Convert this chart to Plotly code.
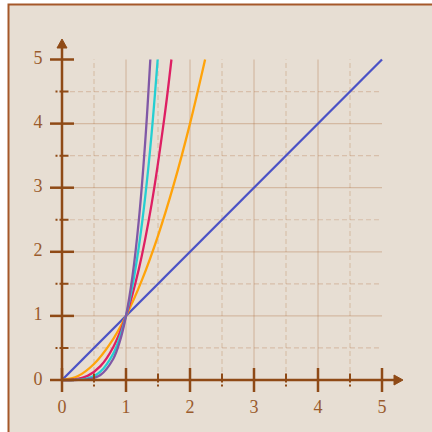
import plotly.graph_objects as go

# ---- data ----
x1 = [0, 5]
y1 = [0, 5]
x2 = [0, 0.25, 0.5, 0.75, 1, 1.25, 1.5, 1.75, 2, 2.236]
y2 = [0, 0.0625, 0.25, 0.5625, 1, 1.5625, 2.25, 3.0625, 4, 5]
x3 = [0, 0.2, 0.4, 0.6, 0.8, 1, 1.2, 1.4, 1.6, 1.71]
y3 = [0, 0.008, 0.064, 0.216, 0.512, 1, 1.728, 2.744, 4.096, 5]
x4 = [0, 0.2, 0.4, 0.6, 0.8, 0.9, 1, 1.1, 1.2, 1.3, 1.4, 1.495]
y4 = [0, 0.0016, 0.0256, 0.1296, 0.4096, 0.6561, 1, 1.4641, 2.0736, 2.8561, 3.8416, 5]
x5 = [0, 0.2, 0.4, 0.6, 0.8, 0.9, 1, 1.1, 1.2, 1.3, 1.38]
y5 = [0, 0.0003, 0.0102, 0.0778, 0.3277, 0.5905, 1, 1.6105, 2.4883, 3.7129, 5.0]

series = [
    (x1, y1, "#4b52c6"),
    (x2, y2, "#ffa30a"),
    (x3, y3, "#de1f63"),
    (x4, y4, "#24cfd2"),
    (x5, y5, "#8058a6"),
]

major_ticks = [0, 1, 2, 3, 4, 5]
tick_labels = ["0", "1", "2", "3", "4", "5"]
minor_ticks = [0.5, 1.5, 2.5, 3.5, 4.5]
grid_major = [1, 2, 3, 4]

# ---- style ----
W = H = 432
px_x = 64.0
px_y = 64.1
x0pix, y0pix = 62, 380
xr = [-x0pix / px_x, (W - x0pix) / px_x]
yr = [-(H - y0pix) / px_y, y0pix / px_y]

AX = "#8f4a16"
GRID_SOLID = "rgba(170,100,50,0.30)"
GRID_DASH = "rgba(170,100,50,0.25)"
LBL = "#9a5b2c"
BG = "#e7ded3"

fig = go.Figure()

shapes = []
# frame
shapes.append(dict(type="rect", xref="paper", yref="paper",
                   x0=8.5 / W, x1=1.2, y0=-0.2, y1=1 - 4.5 / H,
                   fillcolor=BG, line=dict(color="#a5582a", width=2), layer="below"))

# grid
for g in grid_major:
    shapes.append(dict(type="line", x0=g, x1=g, y0=0, y1=5, line=dict(color=GRID_SOLID, width=1.2), layer="below"))
    shapes.append(dict(type="line", x0=0, x1=5, y0=g, y1=g, line=dict(color=GRID_SOLID, width=1.2), layer="below"))
for g in minor_ticks:
    shapes.append(dict(type="line", x0=g, x1=g, y0=0, y1=5, line=dict(color=GRID_DASH, width=1.2, dash="5px,3px"), layer="below"))
    shapes.append(dict(type="line", x0=0, x1=5, y0=g, y1=g, line=dict(color=GRID_DASH, width=1.2, dash="5px,3px"), layer="below"))

# axes
ax_w = 2.5
shapes.append(dict(type="line", x0=0, x1=0, y0=0, y1=(y0pix - 46) / px_y, line=dict(color=AX, width=ax_w)))
shapes.append(dict(type="line", x0=0, x1=(396 - x0pix) / px_x, y0=0, y1=0, line=dict(color=AX, width=ax_w)))

# major ticks
tl = 12
for t in major_ticks:
    shapes.append(dict(type="line", x0=t, x1=t, y0=-tl / px_y, y1=tl / px_y, line=dict(color=AX, width=ax_w)))
    shapes.append(dict(type="line", x0=-tl / px_x, x1=tl / px_x, y0=t, y1=t, line=dict(color=AX, width=ax_w)))
# minor ticks
ml = 6.5
for t in minor_ticks:
    shapes.append(dict(type="line", x0=t, x1=t, y0=-ml / px_y, y1=ml / px_y,
                       line=dict(color=AX, width=2, dash="2px,2px,10px,2px")))
    shapes.append(dict(type="line", x0=-ml / px_x, x1=ml / px_x, y0=t, y1=t,
                       line=dict(color=AX, width=2, dash="2px,2px,10px,2px")))

# arrow heads
shapes.append(dict(type="path",
                   path=f"M {-5/px_x} {(y0pix-48)/px_y} L {5/px_x} {(y0pix-48)/px_y} L 0 {(y0pix-39)/px_y} Z",
                   fillcolor=AX, line=dict(color=AX, width=1)))
shapes.append(dict(type="path",
                   path=f"M {(394-x0pix)/px_x} {-5/px_y} L {(394-x0pix)/px_x} {5/px_y} L {(403-x0pix)/px_x} 0 Z",
                   fillcolor=AX, line=dict(color=AX, width=1)))

for xs, ys, c in series:
    fig.add_trace(go.Scatter(x=xs, y=ys, mode="lines", line=dict(color=c, width=2.3, shape="spline"),
                             hoverinfo="skip", showlegend=False))

# tick labels
fig.add_trace(go.Scatter(x=major_ticks, y=[-(408 - y0pix) / px_y] * len(major_ticks), mode="text",
                         text=tick_labels, textfont=dict(family="Liberation Serif, DejaVu Serif, serif", size=18, color=LBL),
                         hoverinfo="skip", showlegend=False))
fig.add_trace(go.Scatter(x=[-(x0pix - 38) / px_x] * len(major_ticks), y=major_ticks, mode="text",
                         text=tick_labels, textfont=dict(family="Liberation Serif, DejaVu Serif, serif", size=18, color=LBL),
                         hoverinfo="skip", showlegend=False))

fig.update_layout(
    width=W, height=H,
    margin=dict(l=0, r=0, t=0, b=0),
    paper_bgcolor="white", plot_bgcolor="white",
    xaxis=dict(range=xr, visible=False, fixedrange=True),
    yaxis=dict(range=yr, visible=False, fixedrange=True),
    shapes=shapes,
    showlegend=False,
)

fig.write_html("out.html", config={"displayModeBar": False},
               post_script="document.body.style.margin='0';document.body.style.overflow='hidden';")
